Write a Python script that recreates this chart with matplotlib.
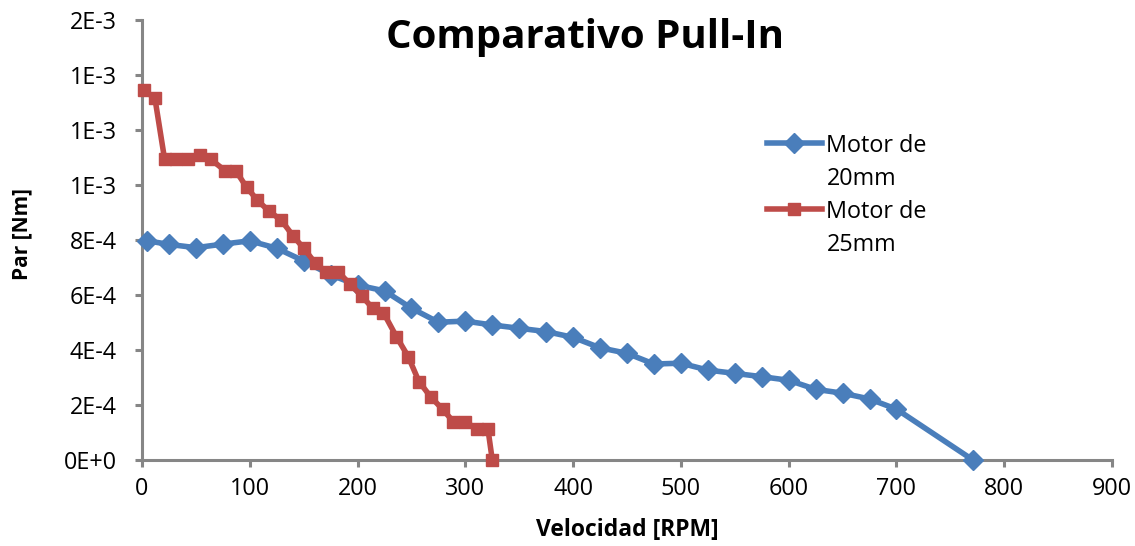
import matplotlib
matplotlib.use("Agg")
import matplotlib.pyplot as plt
from matplotlib.ticker import FuncFormatter, MultipleLocator

# Motor de 20mm: velocidad [RPM] y par [Nm]
rpm_20 = [5, 25, 50, 75, 100, 125, 150, 175, 200, 225, 250, 275, 300, 325, 350,
          375, 400, 425, 450, 475, 500, 525, 550, 575, 600, 625, 650, 675, 700, 771]
par_20 = [7.97e-4, 7.84e-4, 7.72e-4, 7.85e-4, 7.97e-4, 7.70e-4, 7.24e-4, 6.73e-4,
          6.36e-4, 6.15e-4, 5.52e-4, 5.01e-4, 5.05e-4, 4.91e-4, 4.79e-4, 4.67e-4,
          4.46e-4, 4.08e-4, 3.88e-4, 3.49e-4, 3.52e-4, 3.27e-4, 3.15e-4, 3.03e-4,
          2.90e-4, 2.57e-4, 2.43e-4, 2.22e-4, 1.85e-4, 0.0]

# Motor de 25mm
rpm_25 = [2, 12, 21, 32, 43, 54, 64, 77, 87, 97, 107, 118, 129, 140, 150, 161,
          171, 182, 193, 204, 214, 224, 236, 247, 257, 268, 279, 289, 300, 311,
          321, 325]
par_25 = [1.345e-3, 1.315e-3, 1.093e-3, 1.093e-3, 1.093e-3, 1.109e-3, 1.093e-3,
          1.052e-3, 1.052e-3, 9.92e-4, 9.45e-4, 9.04e-4, 8.73e-4, 8.16e-4,
          7.70e-4, 7.15e-4, 6.84e-4, 6.84e-4, 6.40e-4, 5.96e-4, 5.52e-4, 5.36e-4,
          4.49e-4, 3.76e-4, 2.85e-4, 2.29e-4, 1.84e-4, 1.39e-4, 1.39e-4, 1.12e-4,
          1.12e-4, 0.0]

labels = ["Motor de\n20mm", "Motor de\n25mm"]
title = "Comparativo Pull-In"
xlabel = "Velocidad [RPM]"
ylabel = "Par [Nm]"

plt.rcParams["font.family"] = ["Open Sans", "DejaVu Sans"]

BLUE = "#4A7EBB"
RED = "#BE4B48"
AXIS = "#868686"
W, H = 1135, 546

fig = plt.figure(figsize=(W / 100, H / 100), dpi=100)
ax = fig.add_axes([142 / W, 1 - 460 / H, (1112 - 142) / W, (460 - 20) / H])

ax.plot(rpm_20, par_20, color=BLUE, lw=4, marker="D", ms=10,
        label=labels[0], clip_on=False, zorder=3)
ax.plot(rpm_25, par_25, color=RED, lw=4, marker="s", ms=8.5,
        label=labels[1], clip_on=False, zorder=4)

ax.set_xlim(0, 900)
ax.set_ylim(0, 0.0016)
ax.xaxis.set_major_locator(MultipleLocator(100))
ax.yaxis.set_major_locator(MultipleLocator(0.0002))


def excel_sci(v, pos):
    s = "%.0E" % v
    mant, exp = s.split("E")
    sign = exp[0]
    digits = exp[1:].lstrip("0") or "0"
    return f"{mant}E{sign}{digits}"


ax.yaxis.set_major_formatter(FuncFormatter(excel_sci))

for side in ("top", "right"):
    ax.spines[side].set_visible(False)
for side in ("left", "bottom"):
    ax.spines[side].set_color(AXIS)
    ax.spines[side].set_linewidth(2.2)
ax.tick_params(axis="both", colors=AXIS, width=2.2, length=5, labelsize=16.8,
               labelcolor="black")
ax.tick_params(axis="y", pad=13)
ax.tick_params(axis="x", pad=7)

ax.set_xlabel(xlabel, fontsize=16.5, fontweight="bold")
ax.set_ylabel(ylabel, fontsize=15, fontweight="bold")
ax.xaxis.label.set_va("center")
ax.yaxis.label.set_va("center")
ax.xaxis.set_label_coords((627 - 142) / 970, (460 - 530) / 440)
ax.yaxis.set_label_coords((22 - 142) / 970, (460 - 234) / 440)

fig.text(0.5 * (385 + 785) / W, 1 - 48 / H, title, fontsize=29,
         fontweight="bold", ha="center", va="baseline")

leg = ax.legend(loc="upper left", bbox_to_anchor=(767 / W, 1 - 134 / H),
                bbox_transform=fig.transFigure, frameon=False, fontsize=16.8,
                handlelength=2.35, handleheight=0.8, handletextpad=0.2,
                labelspacing=0.4, borderpad=0, borderaxespad=0)
for t in leg.get_texts():
    t.set_linespacing(1.5)
# keep each legend key level with the first line of its label
for column in leg._legend_handle_box.get_children():
    for item in column.get_children():
        item.align = "top"

fig.savefig("out.png", dpi=100)
